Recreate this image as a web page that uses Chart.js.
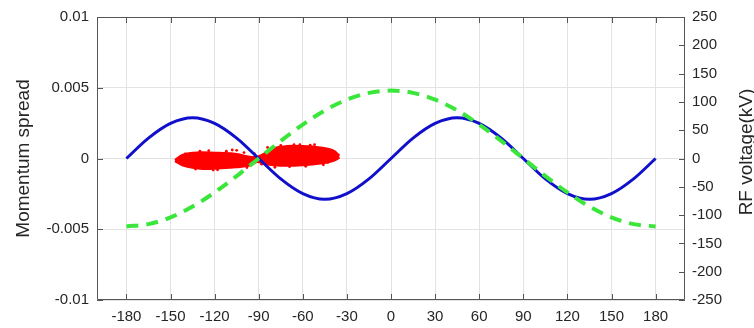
<!DOCTYPE html>
<html>
<head>
<meta charset="utf-8">
<script src="https://cdn.jsdelivr.net/npm/chart.js@4"></script>
<style>
  html, body { margin: 0; padding: 0; background: #fff; }
  #wrap { width: 754px; height: 328px; }
</style>
</head>
<body>
<div id="wrap"><canvas id="rfChart" width="754" height="328"></canvas></div>
<script>
// phase in degrees
const phase = [-180, -165, -150, -135, -120, -105, -90, -75, -60, -45, -30, -15, 0,
  15, 30, 45, 60, 75, 90, 105, 120, 135, 150, 165, 180];
// RF voltage, green dashed (kV)
const rfVoltage = [-120, -116, -104, -85, -60, -31, 0, 31, 60, 85, 104, 116, 120,
  116, 104, 85, 60, 31, 0, -31, -60, -85, -104, -116, -120];
// second curve, blue solid (kV)
const harmVoltage = [0, 36, 62, 72, 62, 36, 0, -36, -62, -72, -62, -36, 0,
  36, 62, 72, 62, 36, 0, -36, -62, -72, -62, -36, 0];

// outline of the particle cloud (phase, momentum spread)
const cloudPhase = [-147, -142, -135, -128, -117, -105, -96, -91, -87, -80, -71, -60, -48, -40, -35];
const cloudUpper = [-0.0001, 0.00025, 0.0004, 0.00044, 0.0004, 0.00032, 0.00012, 0.00012,
  0.0003, 0.00072, 0.00088, 0.00088, 0.00078, 0.0006, 0.00022];
const cloudLower = [-0.00018, -0.00048, -0.00066, -0.00074, -0.0007, -0.00062, -0.0005, -0.00025,
  -0.00036, -0.00048, -0.00052, -0.00048, -0.00036, -0.0002, 0.00004];
// stray particles round the edges
const strayPhase = [-108, -105, -124, -79, -84, -98, -52, -43, -140, -133, -118, -112, -100,
  -93, -88, -75, -66, -58, -46, -38, -130, -121, -69, -62, -55];
const strayDp = [0.0006, 0.00058, 0.00055, -0.00062, 0.00078, -0.00064, 0.00098, -0.00028, 0.00032,
  -0.00075, -0.0008, 0.00052, 0.00042, 0.00035, -0.0004, 0.00092, 0.00097, -0.00055, -0.00045,
  0.00045, 0.00052, -0.00082, -0.00058, 0.00098, 0.00094];

const xTicks = [-180, -150, -120, -90, -60, -30, 0, 30, 60, 90, 120, 150, 180];
const leftTicks = [-0.01, -0.005, 0, 0.005, 0.01];
const rightTicks = [-250, -200, -150, -100, -50, 0, 50, 100, 150, 200, 250];

const FONT = 'Liberation Sans, Arial, sans-serif';
const TEXT = '#262626';

const pts = (xs, ys) => xs.map((x, i) => ({ x: x, y: ys[i] }));

// box around the plot with MATLAB style inward ticks, and right axis title
const frame = {
  id: 'frame',
  afterDraw(chart) {
    const { ctx, chartArea: a, scales } = chart;
    const len = 6;
    ctx.save();
    ctx.strokeStyle = '#555';
    ctx.lineWidth = 1;
    ctx.beginPath();
    ctx.rect(a.left + 0.5, a.top + 0.5, a.right - a.left - 1, a.bottom - a.top - 1);
    xTicks.forEach((v) => {
      const px = Math.round(scales.x.getPixelForValue(v)) + 0.5;
      ctx.moveTo(px, a.bottom); ctx.lineTo(px, a.bottom - len);
      ctx.moveTo(px, a.top); ctx.lineTo(px, a.top + len);
    });
    leftTicks.forEach((v) => {
      const py = Math.round(scales.y.getPixelForValue(v)) + 0.5;
      ctx.moveTo(a.left, py); ctx.lineTo(a.left + len, py);
    });
    rightTicks.forEach((v) => {
      const py = Math.round(scales.y2.getPixelForValue(v)) + 0.5;
      ctx.moveTo(a.right, py); ctx.lineTo(a.right - len, py);
    });
    ctx.stroke();

    ctx.fillStyle = TEXT;
    ctx.font = '19px ' + FONT;
    ctx.textAlign = 'center';
    ctx.textBaseline = 'middle';
    ctx.translate(747, 152);
    ctx.rotate(-Math.PI / 2);
    ctx.fillText('RF voltage(kV)', 0, 0);
    ctx.restore();
  }
};

new Chart(document.getElementById('rfChart'), {
  data: {
    datasets: [
      {
        type: 'line',
        label: 'cloud top',
        data: pts(cloudPhase, cloudUpper),
        yAxisID: 'y',
        borderColor: '#ff0000',
        backgroundColor: '#ff0000',
        borderWidth: 2,
        pointRadius: 0,
        tension: 0.4,
        fill: '+1',
        order: 3,
      },
      {
        type: 'line',
        label: 'cloud bottom',
        data: pts(cloudPhase, cloudLower),
        yAxisID: 'y',
        borderColor: '#ff0000',
        borderWidth: 2,
        pointRadius: 0,
        tension: 0.4,
        fill: false,
        order: 3,
      },
      {
        type: 'scatter',
        label: 'stray',
        data: pts(strayPhase, strayDp),
        yAxisID: 'y',
        backgroundColor: '#ff0000',
        borderWidth: 0,
        pointRadius: 1.4,
        order: 3,
      },
      {
        type: 'line',
        label: 'blue',
        data: pts(phase, harmVoltage),
        yAxisID: 'y2',
        borderColor: '#1010cc',
        borderWidth: 3,
        pointRadius: 0,
        cubicInterpolationMode: 'monotone',
        fill: false,
        order: 2,
      },
      {
        type: 'line',
        label: 'RF voltage',
        data: pts(phase, rfVoltage),
        yAxisID: 'y2',
        borderColor: '#3be63b',
        borderWidth: 4,
        borderDash: [12, 8],
        pointRadius: 0,
        cubicInterpolationMode: 'monotone',
        fill: false,
        order: 1,
      },
    ],
  },
  options: {
    responsive: false,
    animation: false,
    devicePixelRatio: 1,
    layout: { padding: { top: 14, left: 0, right: 0, bottom: 0 } },
    plugins: {
      legend: { display: false },
      tooltip: { enabled: false },
    },
    scales: {
      x: {
        type: 'linear',
        min: -200,
        max: 200,
        afterBuildTicks: (s) => { s.ticks = xTicks.map((v) => ({ value: v })); },
        afterFit: (s) => { s.height = 28; },
        ticks: { color: TEXT, font: { family: FONT, size: 15 }, padding: 8, maxRotation: 0 },
        grid: { color: '#e3e3e3', drawTicks: false },
        border: { display: false },
      },
      y: {
        position: 'left',
        min: -0.01,
        max: 0.01,
        afterBuildTicks: (s) => { s.ticks = leftTicks.map((v) => ({ value: v })); },
        afterFit: (s) => { s.width = 97; },
        ticks: { color: TEXT, font: { family: FONT, size: 15 }, padding: 8, callback: (v) => String(v) },
        grid: { color: '#e3e3e3', drawTicks: false },
        border: { display: false },
        title: {
          display: true,
          text: 'Momentum spread',
          color: TEXT,
          font: { family: FONT, size: 19 },
          padding: { top: 12, bottom: 0 },
        },
      },
      y2: {
        position: 'right',
        min: -250,
        max: 250,
        afterBuildTicks: (s) => { s.ticks = rightTicks.map((v) => ({ value: v })); },
        afterFit: (s) => { s.width = 69; },
        ticks: { color: TEXT, font: { family: FONT, size: 15 }, padding: 7 },
        grid: { display: false, drawTicks: false },
        border: { display: false },
      },
    },
  },
  plugins: [frame],
});
</script>
</body>
</html>
